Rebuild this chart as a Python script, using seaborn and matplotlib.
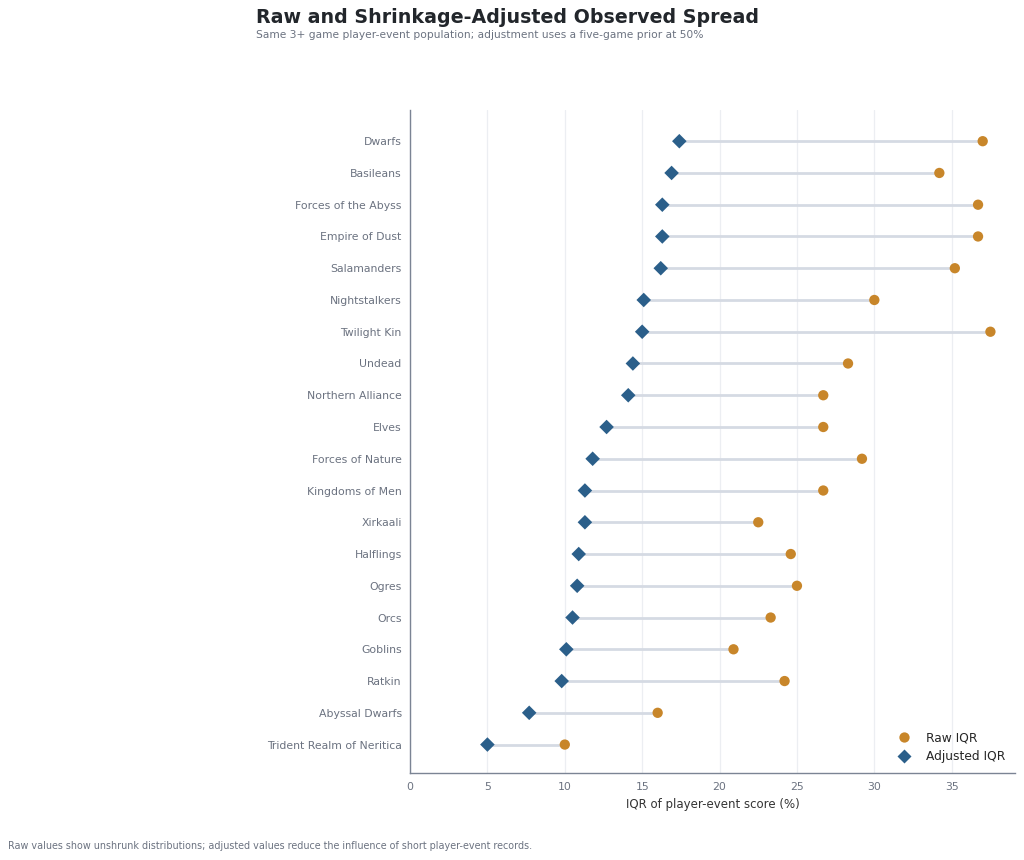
import matplotlib
matplotlib.use("Agg")
import matplotlib.pyplot as plt
import seaborn as sns
import pandas as pd

factions = ["Dwarfs", "Basileans", "Forces of the Abyss", "Empire of Dust", "Salamanders",
            "Nightstalkers", "Twilight Kin", "Undead", "Northern Alliance", "Elves",
            "Forces of Nature", "Kingdoms of Men", "Xirkaali", "Halflings", "Ogres",
            "Orcs", "Goblins", "Ratkin", "Abyssal Dwarfs", "Trident Realm of Neritica"]
raw_iqr = [37.0, 34.2, 36.7, 36.7, 35.2, 30.0, 37.5, 28.3, 26.7, 26.7,
           29.2, 26.7, 22.5, 24.6, 25.0, 23.3, 20.9, 24.2, 16.0, 10.0]
adj_iqr = [17.4, 16.9, 16.3, 16.3, 16.2, 15.1, 15.0, 14.4, 14.1, 12.7,
           11.8, 11.3, 11.3, 10.9, 10.8, 10.5, 10.1, 9.8, 7.7, 5.0]

df = pd.DataFrame({"faction": factions * 2,
                   "value": raw_iqr + adj_iqr,
                   "series": ["Raw IQR"] * len(factions) + ["Adjusted IQR"] * len(factions)})

sns.set_style("white")
plt.rcParams['font.family'] = ['DejaVu Sans']

fig = plt.figure(figsize=(10.24, 8.6), dpi=100)
ax = fig.add_axes([0.4004, 0.101, 0.591, 0.771])

# connecting lines between adjusted and raw
for name, a, r in zip(factions, adj_iqr, raw_iqr):
    ax.plot([a, r], [name, name], color="#d5dae3", lw=2, zorder=1, solid_capstyle="butt")

sns.scatterplot(data=df, x="value", y="faction", hue="series", style="series",
                palette={"Raw IQR": "#c8862a", "Adjusted IQR": "#2b5f8a"},
                markers={"Raw IQR": "o", "Adjusted IQR": "D"},
                s=55, edgecolor="none", zorder=3, ax=ax)

ax.set_ylim(19.9, -0.98)
ax.set_xlim(0, 39.1)
ax.set_xticks([0, 5, 10, 15, 20, 25, 30, 35])
ax.grid(axis="x", color="#eceef2", lw=0.9)
ax.set_axisbelow(True)
for s in ["top", "right"]:
    ax.spines[s].set_visible(False)
for s in ["left", "bottom"]:
    ax.spines[s].set_color("#7b8494")
    ax.spines[s].set_linewidth(1.0)
ax.tick_params(axis="both", colors="#7b8494", labelsize=7.8, length=3, labelcolor="#6b7280")
ax.tick_params(axis="y", pad=3)
ax.set_ylabel("")
ax.set_xlabel("IQR of player-event score (%)", fontsize=8.5, color="#333333", labelpad=4)

ax.legend(loc="lower right", frameon=False, fontsize=8.8, title=None,
          handletextpad=1.2, labelspacing=0.5, handlelength=1.2,
          bbox_to_anchor=(1.0, 0.0), borderaxespad=0.4)

fig.text(0.25, 0.980, "Raw and Shrinkage-Adjusted Observed Spread", fontsize=13.7,
         fontweight="bold", color="#22262b", va="center", ha="left")
fig.text(0.25, 0.959, "Same 3+ game player-event population; adjustment uses a five-game prior at 50%",
         fontsize=7.66, color="#6b7280", va="center", ha="left")
fig.text(0.008, 0.016, "Raw values show unshrunk distributions; adjusted values reduce the influence of short player-event records.",
         fontsize=6.9, color="#6b7280", va="center", ha="left")

fig.savefig("out.png", dpi=100)
